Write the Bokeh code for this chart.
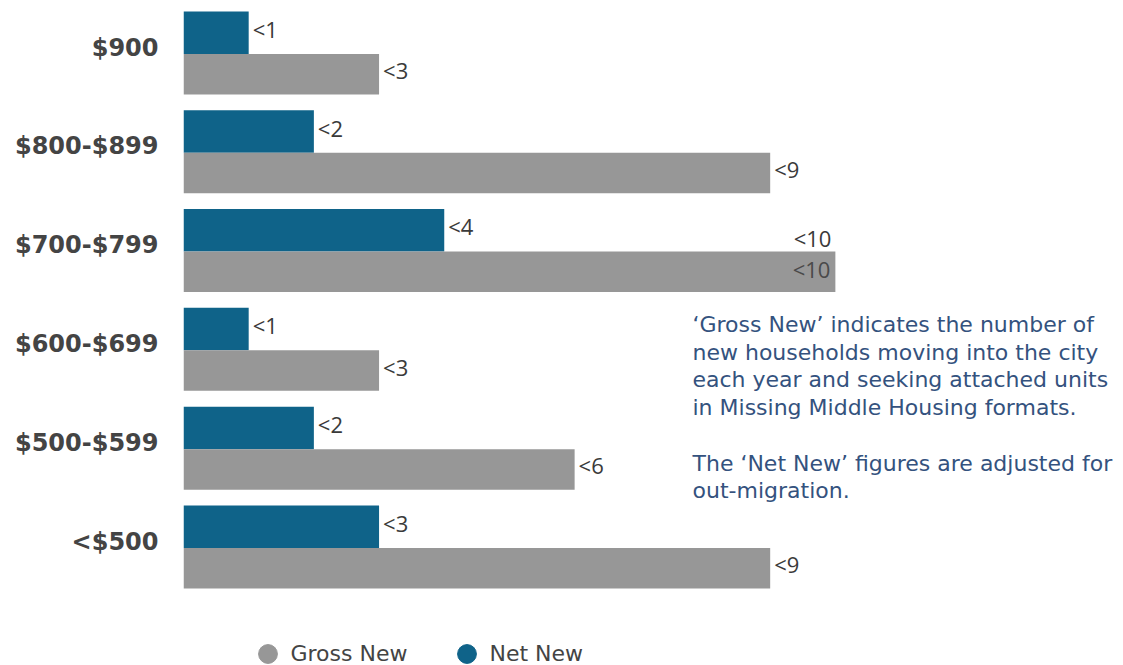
from bokeh.plotting import figure
from bokeh.models import ColumnDataSource, Range1d, FixedTicker, Legend, LegendItem, Label
from bokeh.core.properties import value
from bokeh.embed import file_html
from bokeh.resources import INLINE

# ---- data (bottom to top) ----
categories = ["<$500", "$500-$599", "$600-$699", "$700-$799", "$800-$899", "$900"]
net_new = [3, 2, 1, 4, 2, 1]
gross_new = [9, 6, 3, 10, 9, 3]
net_labels = ["<3", "<2", "<1", "<4", "<2", "<1"]
gross_labels = ["<9", "<6", "<3", "<10", "<9", "<3"]

note_lines = [
    "\u2018Gross New\u2019 indicates the number of",
    "new households moving into the city",
    "each year and seeking attached units",
    "in Missing Middle Housing formats.",
    "",
    "The \u2018Net New\u2019 figures are adjusted for",
    "out-migration.",
]

BLUE = "#0f6389"
GRAY = "#979797"
TXT = "#3a3a3a"
NOTE = "#34527e"

idx = list(range(len(categories)))
NET_OFF, GROSS_OFF = 0.15, -0.27
gmax = max(gross_new)

src_net = ColumnDataSource(dict(y=[i + NET_OFF for i in idx], v=net_new, t=net_labels))
src_gross = ColumnDataSource(dict(y=[i + GROSS_OFF for i in idx], v=gross_new,
                                  t=[t if g < gmax else "" for t, g in zip(gross_labels, gross_new)]))
top_i = [i for i, g in zip(idx, gross_new) if g == gmax]
src_max = ColumnDataSource(dict(y=[i + GROSS_OFF for i in top_i],
                                v=[gross_new[i] for i in top_i],
                                t=[gross_labels[i] for i in top_i]))

p = figure(width=1123, height=665, x_range=Range1d(0, 14.42), y_range=Range1d(-1.255, 5.476),
           output_backend="svg", toolbar_location=None, x_axis_location=None,
           min_border_left=183, min_border_right=0, min_border_top=0, min_border_bottom=0)
p.outline_line_color = None
p.grid.visible = False
p.background_fill_color = "white"
p.border_fill_color = "white"

p.hbar(y="y", left=0, right="v", height=0.43, source=src_net, color=BLUE, line_color=None)
p.hbar(y="y", left=0, right="v", height=0.41, source=src_gross, color=GRAY, line_color=None)

lab_font = value("Open Sans")
p.text(x="v", y="y", text="t", source=src_net, x_offset=4, y_offset=-4,
       text_font=lab_font, text_font_size="22px", text_color=TXT, text_baseline="middle")
p.text(x="v", y="y", text="t", source=src_gross, x_offset=4, y_offset=-4,
       text_font=lab_font, text_font_size="22px", text_color=TXT, text_baseline="middle")
# the largest gross value is labelled at the bar end, above and inside
p.text(x="v", y="y", text="t", source=src_max, x_offset=-4, y_offset=-34,
       text_font=lab_font, text_font_size="22px", text_color=TXT, text_baseline="middle",
       text_align="right")
p.text(x="v", y="y", text="t", source=src_max, x_offset=-5, y_offset=-3,
       text_font=lab_font, text_font_size="22px", text_color="#4a4a4a", text_baseline="middle",
       text_align="right")

ax = p.yaxis[0]
ax.ticker = FixedTicker(ticks=idx)
ax.major_label_overrides = {i: c for i, c in zip(idx, categories)}
ax.axis_line_color = None
ax.major_tick_line_color = None
ax.minor_tick_line_color = None
ax.major_tick_in = 0
ax.major_tick_out = 0
ax.major_label_standoff = 25
ax.major_label_text_font = "DejaVu Sans"
ax.major_label_text_font_style = "bold"
ax.major_label_text_font_size = "24px"
ax.major_label_text_color = "#444444"

for k, line in enumerate(note_lines):
    if not line:
        continue
    p.add_layout(Label(x=692 - 183, y=665 - 324 - k * 27.7, x_units="screen", y_units="screen",
                       text=line, text_font="DejaVu Sans", text_font_size="22px",
                       text_color=NOTE, text_baseline="middle"))

# legend
nan = float("nan")
r_g = p.scatter(x=[nan], y=[nan], marker="circle", color=GRAY)
r_n = p.scatter(x=[nan], y=[nan], marker="circle", color=BLUE)
legend = Legend(items=[LegendItem(label="Gross New", renderers=[r_g]),
                       LegendItem(label="Net New", renderers=[r_n])],
                orientation="horizontal", location=(60.5, -11.5),
                glyph_width=47, glyph_height=47, label_standoff=-9, label_width=152,
                spacing=0, padding=0, margin=0, border_line_color=None,
                background_fill_alpha=0, label_text_font="DejaVu Sans",
                label_text_font_size="22px", label_text_color="#444444")
p.add_layout(legend)

open("out.html", "w").write(file_html(p, INLINE))
